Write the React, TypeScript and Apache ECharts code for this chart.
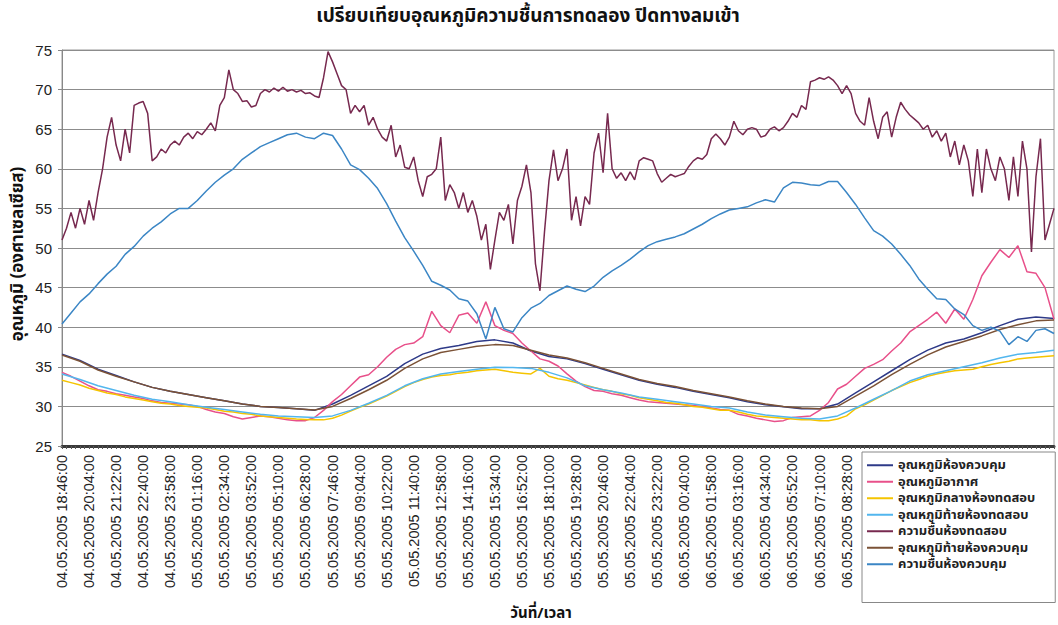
import React, { useEffect, useRef } from 'react';
import * as echarts from 'echarts';

// ---- Text ----
const TITLE = 'เปรียบเทียบอุณหภูมิความชื้นการทดลอง ปิดทางลมเข้า';
const Y_NAME = 'อุณหภูมิ (องศาเซลเซียส)';
const X_NAME = 'วันที่/เวลา';

// ---- Time categories (13-minute steps, a label every 6th = 78 min) ----
const START_TIME = '2005-05-04T18:46:00Z';
const STEP_MINUTES = 13;
const CATEGORY_COUNT = 221;
const LABEL_INTERVAL = 5; // show 1 of every 6 categories
const LAST_LABEL_INDEX = 174; // 06.05.2005 08:28:00 — later labels sit under the legend

// ---- Y axis ----
const Y_MIN = 25;
const Y_MAX = 75;
const Y_STEP = 5;

// ---- Series names (legend order) ----
const NAMES = [
  'อุณหภูมิห้องควบคุม',
  'อุณหภูมิอากาศ',
  'อุณหภูมิกลางห้องทดสอบ',
  'อุณหภูมิท้ายห้องทดสอบ',
  'ความชื้นห้องทดสอบ',
  'อุณหภูมิท้ายห้องควบคุม',
  'ความชื้นห้องควบคุม',
];

// ---- Values (each array sampled every `step` categories) ----
// control-room temperature, every 4 categories
const TEMP_CONTROL = [
  36.6, 35.8, 34.7, 33.9, 33.1, 32.4, 31.9, 31.5, 31.1, 30.7,
  30.3, 30.0, 29.85, 29.7, 29.5, 30.3, 31.4, 32.6, 33.8, 35.4,
  36.6, 37.3, 37.7, 38.2, 38.4, 38.0, 37.0, 36.3, 36.0, 35.4,
  34.7, 34.0, 33.3, 32.8, 32.4, 31.9, 31.5, 31.1, 30.6, 30.2,
  29.95, 29.7, 29.7, 30.3, 31.7, 33.1, 34.5, 35.9, 37.1, 38.0,
  38.5, 39.3, 40.2, 41.0, 41.3, 41.1,
];
// air temperature, every 2 categories
const TEMP_AIR = [
  34.3, 33.8, 33.2, 32.6, 32.1, 31.9, 31.6, 31.4, 31.2, 31.0,
  30.7, 30.5, 30.4, 30.3, 30.2, 30.0, 29.6, 29.3, 29.1, 28.7,
  28.4, 28.6, 28.8, 28.7, 28.5, 28.3, 28.2, 28.2, 28.6, 29.5,
  30.6, 31.5, 32.6, 33.7, 34.0, 35.0, 36.2, 37.2, 37.8, 38.0,
  38.8, 42.0, 40.2, 39.3, 41.5, 41.8, 40.5, 43.2, 40.2, 39.6,
  39.2, 38.0, 37.0, 36.0, 35.7, 35.1, 34.1, 33.2, 32.5, 32.0,
  31.9, 31.6, 31.4, 31.1, 30.8, 30.6, 30.5, 30.4, 30.3, 30.2,
  30.1, 30.0, 29.8, 29.6, 29.5, 29.0, 28.8, 28.5, 28.3, 28.1,
  28.2, 28.6, 28.7, 28.8, 29.5, 30.5, 32.2, 32.8, 33.8, 34.8,
  35.3, 35.9, 37.0, 38.0, 39.4, 40.2, 41.0, 41.9, 40.5, 42.3,
  41.0, 43.5, 46.5, 48.2, 49.8, 48.8, 50.3, 47.0, 46.8, 45.0, 41.0,
];
// test-room middle temperature, every 2 categories
const TEMP_TEST_MID = [
  33.3, 33.0, 32.7, 32.3, 32.0, 31.7, 31.5, 31.2, 31.0, 30.8,
  30.6, 30.4, 30.3, 30.1, 30.0, 29.9, 29.8, 29.6, 29.4, 29.3,
  29.1, 29.0, 28.8, 28.7, 28.6, 28.5, 28.4, 28.35, 28.3, 28.3,
  28.5, 28.9, 29.4, 29.9, 30.3, 30.8, 31.3, 31.9, 32.5, 33.0,
  33.4, 33.7, 33.9, 34.0, 34.2, 34.3, 34.5, 34.6, 34.7, 34.5,
  34.3, 34.2, 34.1, 34.8, 33.8, 33.5, 33.3, 33.0, 32.7, 32.4,
  32.1, 31.9, 31.6, 31.4, 31.1, 30.9, 30.7, 30.5, 30.4, 30.2,
  30.0, 29.9, 29.7, 29.5, 29.5, 29.3, 29.0, 28.8, 28.7, 28.6,
  28.5, 28.4, 28.3, 28.3, 28.2, 28.2, 28.4, 28.8, 29.7, 30.2,
  30.8, 31.4, 32.0, 32.5, 33.0, 33.4, 33.8, 34.1, 34.3, 34.5,
  34.6, 34.7, 35.0, 35.3, 35.5, 35.7, 36.0, 36.1, 36.2, 36.3, 36.4,
];
// test-room rear temperature, every 4 categories
const TEMP_TEST_REAR = [
  34.1, 33.4, 32.6, 32.0, 31.4, 30.9, 30.6, 30.2, 29.9, 29.6,
  29.3, 29.0, 28.8, 28.7, 28.6, 28.8, 29.5, 30.4, 31.4, 32.6,
  33.5, 34.1, 34.4, 34.7, 34.95, 34.9, 34.8, 34.3, 33.6, 32.6,
  32.1, 31.7, 31.2, 30.9, 30.6, 30.3, 30.0, 29.8, 29.3, 28.9,
  28.7, 28.5, 28.4, 28.8, 29.8, 30.9, 32.0, 33.2, 34.0, 34.5,
  35.0, 35.5, 36.1, 36.6, 36.8, 37.1,
];
// test-room humidity, every category
const HUM_TEST = [
  51, 52.5, 54.5, 52.5, 55, 53, 56, 53.5, 57, 60,
  64, 66.5, 63, 61, 65, 62, 68, 68.3, 68.5, 67,
  61, 61.5, 62.5, 62, 63, 63.5, 63, 64, 64.5, 63.8,
  64.7, 64.3, 65, 65.8, 64.8, 68, 69, 72.5, 70, 69.5,
  68.5, 68.6, 67.8, 68, 69.5, 70, 69.7, 70.2, 69.8, 70.3,
  69.8, 70, 69.7, 69.9, 69.5, 69.6, 69.2, 69, 71.5, 74.8,
  73.5, 72, 70.5, 70, 67, 68, 67.2, 68, 65.5, 66.5,
  65, 64, 63.5, 65.5, 61.5, 63, 60.2, 60, 61.5, 58.5,
  56.5, 59, 59.3, 60, 64, 56, 58, 57, 55, 57,
  54.5, 56, 54, 51, 53, 47.3, 51, 54.5, 53.5, 55.5,
  50.5, 56, 57.8, 60.5, 57, 48, 44.6, 52, 58.5, 62.4,
  58.5, 60, 62.5, 53.5, 56.5, 52.8, 56.5, 55.5, 62, 64.5,
  59.5, 67, 60, 58.8, 59.5, 58.5, 59.6, 58.6, 61, 61.4,
  61.2, 61, 59.4, 58.3, 58.8, 59.3, 59, 59.2, 59.4, 60.3,
  61, 61.4, 61.2, 61.8, 63.8, 64.4, 63.8, 63, 64, 66,
  64.8, 64.3, 65, 65.2, 65, 64, 64.2, 65, 65.3, 64.8,
  65.2, 66, 67, 66.5, 68, 67.5, 71, 71.2, 71.5, 71.3,
  71.6, 71.2, 70.5, 69.5, 70.5, 69.5, 67, 66, 65.5, 69,
  66, 63.8, 66.5, 67.2, 64, 66.5, 68.4, 67.5, 66.8, 66.3,
  65.8, 65, 65.5, 64, 64.8, 63.5, 64.5, 61.5, 63.5, 60.5,
  63, 61, 56.5, 62.5, 57, 62.5, 60, 58.5, 61.5, 60,
  56, 61.5, 56.5, 63.5, 60, 49.5, 59, 63.8, 51, 53, 55,
];
// control-room rear temperature, every 4 categories
const TEMP_CONTROL_REAR = [
  36.5, 35.7, 34.6, 33.8, 33.1, 32.4, 31.9, 31.5, 31.1, 30.7,
  30.3, 30.0, 29.85, 29.7, 29.55, 30.0, 31.0, 32.1, 33.3, 34.8,
  36.0, 36.8, 37.2, 37.6, 37.8, 37.7, 37.1, 36.5, 36.1, 35.5,
  34.8, 34.1, 33.4, 32.9, 32.5, 32.0, 31.6, 31.2, 30.7, 30.3,
  30.0, 29.8, 29.7, 30.0, 31.3, 32.6, 34.0, 35.3, 36.5, 37.5,
  38.2, 38.9, 39.7, 40.3, 40.8, 40.9,
];
// control-room humidity, every 2 categories
const HUM_CONTROL = [
  40.4, 41.8, 43.2, 44.2, 45.5, 46.7, 47.7, 49.2, 50.2, 51.5,
  52.5, 53.3, 54.3, 55, 55, 56, 57.2, 58.3, 59.2, 60,
  61.2, 62, 62.8, 63.3, 63.8, 64.3, 64.5, 64, 63.8, 64.5,
  64.2, 62.5, 60.5, 59.9, 58.8, 57.5, 55.6, 53.4, 51.3, 49.6,
  47.8, 45.8, 45.3, 44.7, 43.6, 43.3, 41.7, 38.5, 42.5, 39.8,
  39.4, 41.2, 42.4, 43, 44, 44.6, 45.2, 44.8, 44.5, 45.2,
  46.3, 47.1, 47.8, 48.6, 49.5, 50.3, 50.8, 51.1, 51.4, 51.8,
  52.4, 53, 53.7, 54.3, 54.8, 55, 55.2, 55.7, 56.1, 55.8,
  57.6, 58.3, 58.2, 58, 57.9, 58.4, 58.4, 57, 55.5, 53.8,
  52.2, 51.5, 50.5, 49.2, 47.8, 46.1, 44.8, 43.6, 43.5, 42.3,
  41.6, 40.2, 39.6, 40, 39.5, 37.8, 38.8, 38.2, 39.6, 39.8, 39.2,
];

const SERIES_DATA = [
  { values: TEMP_CONTROL, step: 4, color: '#2E3A88' },
  { values: TEMP_AIR, step: 2, color: '#E8508A' },
  { values: TEMP_TEST_MID, step: 2, color: '#F5C400' },
  { values: TEMP_TEST_REAR, step: 4, color: '#52B6EE' },
  { values: HUM_TEST, step: 1, color: '#77294F' },
  { values: TEMP_CONTROL_REAR, step: 4, color: '#7B5236' },
  { values: HUM_CONTROL, step: 2, color: '#3B86C5' },
];

const pad = (n: number) => String(n).padStart(2, '0');
const CATEGORIES = Array.from({ length: CATEGORY_COUNT }, (_, i) => {
  const d = new Date(Date.parse(START_TIME) + i * STEP_MINUTES * 60000);
  return `${pad(d.getUTCDate())}.${pad(d.getUTCMonth() + 1)}.${d.getUTCFullYear()} ${pad(
    d.getUTCHours()
  )}:${pad(d.getUTCMinutes())}:00`;
});

const THAI_FONT = 'Tahoma, "Noto Sans Thai", "Noto Sans", "DejaVu Sans", sans-serif';
const NUM_FONT = '"Liberation Sans", Arial, sans-serif';

export default function App() {
  const ref = useRef<HTMLDivElement>(null);
  useEffect(() => {
    if (!ref.current) return;
    const chart = echarts.init(ref.current, undefined, { renderer: 'svg' });
    chart.setOption({
      animation: false,
      backgroundColor: '#ffffff',
      grid: {
        left: 62,
        right: 4,
        top: 50,
        bottom: 179,
        show: true,
        borderColor: '#9a9a9a',
        borderWidth: 1,
        backgroundColor: 'transparent',
      },
      xAxis: {
        type: 'category',
        data: CATEGORIES,
        boundaryGap: false,
        axisLine: { lineStyle: { color: '#3a3a3a', width: 3 } },
        axisTick: { show: true, interval: 0, length: 3, lineStyle: { color: '#555' } },
        axisLabel: {
          interval: LABEL_INTERVAL,
          rotate: 90,
          fontSize: 14.5,
          color: '#222',
          margin: 9,
          fontFamily: NUM_FONT,
          formatter: (value: string, index: number) => (index <= LAST_LABEL_INDEX ? value : ''),
        },
        splitLine: { show: false },
      },
      yAxis: {
        type: 'value',
        min: Y_MIN,
        max: Y_MAX,
        interval: Y_STEP,
        axisLine: { show: true, lineStyle: { color: '#888' } },
        axisTick: { show: true, length: 4, lineStyle: { color: '#888' } },
        axisLabel: { fontSize: 15, color: '#222', margin: 10, fontFamily: NUM_FONT },
        splitLine: { show: true, lineStyle: { color: '#8c8c8c', width: 1 } },
      },
      legend: {
        orient: 'vertical',
        left: 862,
        top: 452,
        icon: 'rect',
        itemWidth: 26,
        itemHeight: 2,
        itemGap: 0,
        padding: [5, 20, 30, 5],
        borderColor: '#888',
        borderWidth: 1,
        backgroundColor: '#ffffff',
        textStyle: {
          fontSize: 13,
          lineHeight: 16.5,
          fontWeight: 'bold',
          color: '#222',
          fontFamily: THAI_FONT,
        },
        data: NAMES,
      },
      graphic: [
        {
          type: 'text',
          x: 528,
          y: 16,
          style: {
            text: TITLE,
            font: `bold 19px ${THAI_FONT}`,
            fill: '#111',
            align: 'center',
            verticalAlign: 'middle',
          },
        },
        {
          type: 'text',
          x: 18,
          y: 254,
          rotation: Math.PI / 2,
          style: {
            text: Y_NAME,
            font: `bold 17px ${THAI_FONT}`,
            fill: '#111',
            align: 'center',
            verticalAlign: 'middle',
          },
        },
        {
          type: 'text',
          x: 541,
          y: 613,
          style: {
            text: X_NAME,
            font: `bold 15px ${THAI_FONT}`,
            fill: '#111',
            align: 'center',
            verticalAlign: 'middle',
          },
        },
      ],
      series: SERIES_DATA.map((s, idx) => ({
        name: NAMES[idx],
        type: 'line',
        symbol: 'none',
        smooth: false,
        connectNulls: true,
        color: s.color,
        lineStyle: { color: s.color, width: 1.5 },
        data: s.values.map((v, k) => [k * s.step, v]),
      })),
    });
    return () => chart.dispose();
  }, []);
  return (
    <div
      ref={ref}
      style={{ position: 'fixed', left: 0, top: 0, width: 1058, height: 625, background: '#fff' }}
    />
  );
}
